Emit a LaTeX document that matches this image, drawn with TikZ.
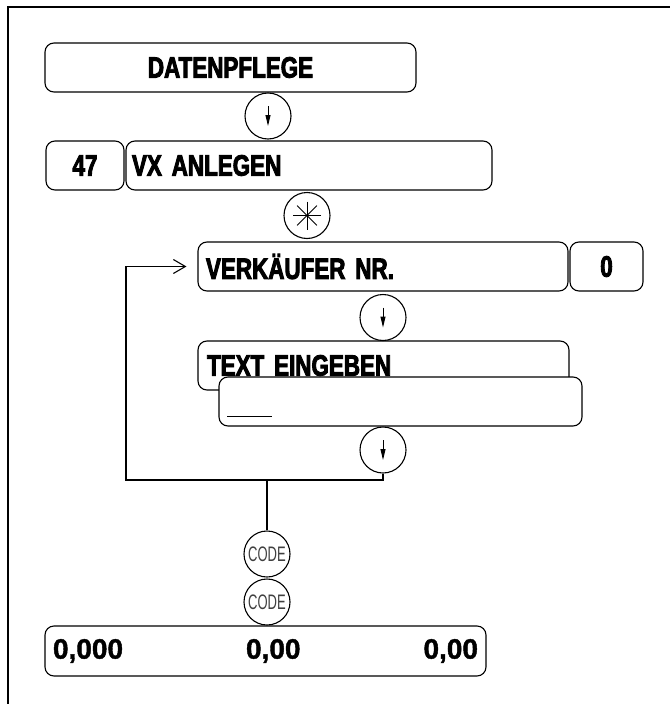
\documentclass[tikz,border=0pt]{standalone}
\usepackage{fontspec}
\usepackage{tikz}
\usetikzlibrary{arrows.meta}
\newfontfamily\dispfont[FakeStretch=0.76, FakeBold=3]{Liberation Sans}
\newfontfamily\numfont[FakeBold=1.5]{Liberation Sans}
\newfontfamily\keyfont[FakeStretch=0.62]{Liberation Sans}

\begin{document}
\begin{tikzpicture}[x=1pt, y=-1pt, line width=1.1pt,
  panel/.style={draw, rounded corners=9pt, minimum height=49pt, inner sep=0pt,
    font=\dispfont\bfseries\fontsize{29.5}{31}\selectfont},
  key/.style={draw, circle, minimum size=46pt, inner sep=0pt,
    font=\keyfont\fontsize{21}{22}\selectfont, text=black!75}]
\useasboundingbox (0,0) rectangle (670,704);
\draw (8,704) -- (8,7) -- (670,7);

\node[panel, minimum width=371pt] (dp) at (230.5,67.5) {DATENPFLEGE};
\node[key] (a1) at (268,116) {};
\node[panel, minimum width=78pt] (nr) at (85,165.5) {47};
\node[panel, text width=354pt, inner xsep=6pt, align=left] (vx) at (309,165.5) {VX ANLEGEN};
\node[key] (st) at (307,215.5) {};
\node[panel, text width=354pt, inner xsep=8pt, align=left] (vk) at (383,266.5) {VERKÄUFER NR.};
\node[panel, minimum width=73pt] (vknr) at (606.5,266.5) {0};
\node[key] (a2) at (383,317.5) {};
\node[panel, text width=353pt, inner xsep=9pt, align=left] (txt) at (383.5,365.5) {TEXT EINGEBEN};
\node[panel, fill=white, minimum width=363pt] (entry) at (400.5,401.5) {};
\node[key] (a3) at (383,450) {};
\node[key] (code1) at (267,554) {CODE};
\node[key] (code2) at (267,602) {CODE};
\node[panel, minimum height=50pt, text width=425pt, inner xsep=8pt, align=left,
  font=\numfont\bfseries\fontsize{28}{30}\selectfont] (disp) at (265.5,651) {0,000\hfill 0,00\hfill 0,00};
\coordinate (loopbot) at (126,480);

% keys
\foreach \k in {a1,a2,a3}
  \draw[line width=1pt, -{Triangle[length=11pt,width=5pt]}] ([yshift=10pt]\k.center) -- ([yshift=-10pt]\k.center);
\foreach \a in {0,45,90,135}
  \draw[line width=0.9pt] ([shift={(\a:14pt)}]st.center) -- ([shift={(\a+180:14pt)}]st.center);
\draw[line width=0.9pt] ([xshift=9pt,yshift=10pt]entry.south west) -- ++(45,0);

% loop back
\draw[-{Straight Barb[length=12pt,width=14pt]}] (a3.south) |- (loopbot) |- ([xshift=-11pt]vk.west);
\draw (code1.north) -- (code1.north |- loopbot);
\end{tikzpicture}
\end{document}
